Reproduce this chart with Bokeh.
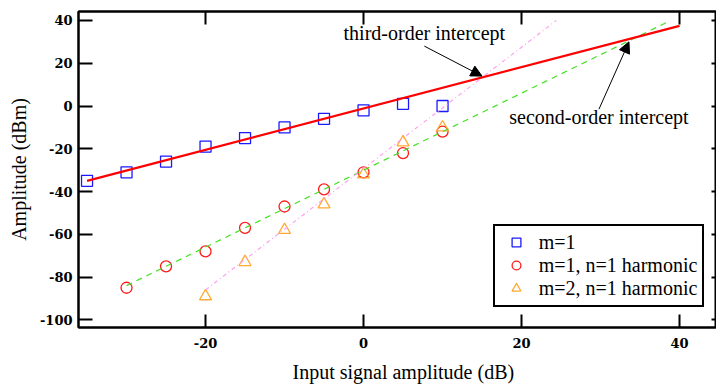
from bokeh.plotting import figure
from bokeh.models import LinearAxis, FixedTicker, Range1d, Arrow, NormalHead, Label, Title
from bokeh.embed import file_html
from bokeh.resources import INLINE

# ---- data ----
m1_x = [-35, -30, -25, -20, -15, -10, -5, 0, 5, 10]
m1_y = [-35, -31, -26, -19, -15, -10, -6, -2, 1, 0]

h1_x = [-30, -25, -20, -15, -10, -5, 0, 5, 10]
h1_y = [-85, -75, -68, -57, -47, -39, -31, -22, -12]

h2_x = [-20, -15, -10, -5, 0, 5, 10]
h2_y = [-89, -73, -58, -46, -32, -17, -10]

fit1_x = [-35, 40]
fit1_y = [-35, 37.5]
fit2_x = [-30, 38.5]
fit2_y = [-84, 39.3]
fit3_x = [-20, 24.4]
fit3_y = [-86, 40]

x_ticks = [-20, 0, 20, 40]
y_ticks = [-100, -80, -60, -40, -20, 0, 20, 40]

third_text = "third-order intercept"
third_text_pos = (7.7, 34.3)
third_arrow = (7.7, 28.0, 15.0, 14.0)
second_text = "second-order intercept"
second_text_pos = (29.8, -5.0)
second_arrow = (29.8, -1.5, 33.6, 30.0)

SERIF = "Liberation Serif"
TICKF = "DejaVu Serif"

p = figure(width=716, height=392, output_backend="svg", toolbar_location=None,
           x_range=Range1d(-36.08, 44.68), y_range=Range1d(-103.6, 44.2),
           min_border_left=78, min_border_right=0, min_border_top=11,
           min_border_bottom=65)
p.xgrid.visible = False
p.ygrid.visible = False
p.outline_line_color = "black"
p.outline_line_width = 2
p.background_fill_color = "white"
p.border_fill_color = "white"

def style_axis(ax, ticks, tick_in, show_labels):
    ax.ticker = FixedTicker(ticks=ticks)
    ax.major_tick_in = tick_in
    ax.major_tick_out = 0
    ax.minor_tick_in = 0
    ax.minor_tick_out = 0
    ax.axis_line_color = "black"
    ax.axis_line_width = 2
    ax.major_tick_line_color = "black"
    ax.major_tick_line_width = 2
    if show_labels:
        ax.major_label_overrides = {t: str(t) for t in ticks}
        ax.major_label_text_font = TICKF
        ax.major_label_text_font_style = "bold"
        ax.major_label_text_font_size = "13px"
        ax.major_label_text_color = "black"
    else:
        ax.major_label_overrides = {t: "" for t in ticks}
        ax.major_label_text_font_size = "1px"
        ax.major_label_standoff = 0

xb = p.xaxis[0]
yl = p.yaxis[0]
style_axis(xb, x_ticks, 13, True)
xb.major_label_standoff = 10
style_axis(yl, y_ticks, 14, True)
yl.major_label_standoff = 6
yl.axis_label = "Amplitude (dBm)"
yl.axis_label_text_font = SERIF
yl.axis_label_text_font_size = "20px"
yl.axis_label_text_font_style = "normal"
yl.axis_label_text_color = "black"
yl.axis_label_standoff = 7

xt = LinearAxis()
style_axis(xt, x_ticks, 13, False)
p.add_layout(xt, "above")
yr = LinearAxis()
style_axis(yr, y_ticks, 5, False)
p.add_layout(yr, "right")

# markers
p.scatter(m1_x, m1_y, marker="square", size=11, fill_color=None,
          line_color="#1a1aff", line_width=1.3, legend_label="m=1")
p.scatter(h1_x, h1_y, marker="circle", size=11, fill_color=None,
          line_color="#ff1a1a", line_width=1.3, legend_label="m=1, n=1 harmonic")
p.scatter(h2_x, h2_y, marker="triangle", size=12, fill_color=None,
          line_color="#ffaa33", line_width=1.3, legend_label="m=2, n=1 harmonic")

# fit lines
p.line(fit2_x, fit2_y, line_color="#44e022", line_width=1.2, line_dash="6 5")
p.line(fit3_x, fit3_y, line_color="#ff9ff0", line_width=1.2, line_dash="4 3 1 3")
p.line(fit1_x, fit1_y, line_color="#ff0000", line_width=2.2)

# annotations
p.add_layout(Label(x=third_text_pos[0], y=third_text_pos[1], text=third_text,
                   text_align="center", text_baseline="alphabetic",
                   text_font=SERIF, text_font_size="20px", text_color="black"))
p.add_layout(Label(x=second_text_pos[0], y=second_text_pos[1], text=second_text,
                   text_align="center", text_baseline="alphabetic",
                   text_font=SERIF, text_font_size="20px", text_color="black"))
for (xs, ys, xe, ye) in (third_arrow, second_arrow):
    p.add_layout(Arrow(end=NormalHead(size=11, fill_color="black", line_color="black",
                                      line_width=1),
                       x_start=xs, y_start=ys, x_end=xe, y_end=ye,
                       line_color="black", line_width=1))

# x axis title, offset to sit where the reference has it
p.add_layout(Title(text="Input signal amplitude (dB)", align="left", offset=214,
                   text_font=SERIF, text_font_size="20px", text_font_style="normal",
                   text_color="black", standoff=16), "below")

lg = p.legend[0]
lg.location = (414.7, 20.3)
lg.margin = 0
lg.padding = 5
lg.spacing = 0
lg.glyph_width = 32
lg.glyph_height = 22
lg.label_height = 22
lg.label_standoff = 7
lg.border_line_color = "black"
lg.border_line_width = 2
lg.border_line_alpha = 1
lg.background_fill_alpha = 1
lg.label_text_font = SERIF
lg.label_text_font_size = "20px"
lg.label_text_color = "black"

open("out.html", "w").write(file_html(p, INLINE))
